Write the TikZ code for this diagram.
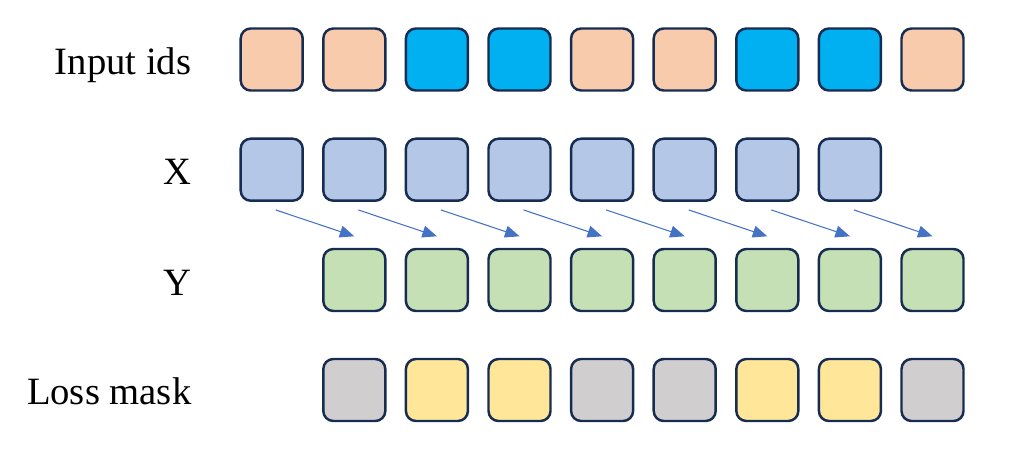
\documentclass[tikz,border=0pt]{standalone}
\usepackage{fontspec}
\setmainfont{Liberation Serif}
\usetikzlibrary{arrows.meta,positioning}
\definecolor{edgeblue}{RGB}{23,44,81}
\definecolor{peach}{RGB}{248,203,173}
\definecolor{cyanblue}{RGB}{0,176,240}
\definecolor{paleblue}{RGB}{180,199,231}
\definecolor{palegreen}{RGB}{197,224,180}
\definecolor{palegray}{RGB}{208,206,206}
\definecolor{paleyellow}{RGB}{255,230,153}
\definecolor{arrowblue}{RGB}{68,114,196}

\begin{document}
\begin{tikzpicture}[node distance=1.652cm,
tok/.style={rectangle,rounded corners=0.2cm,draw=edgeblue,line width=1.4pt,minimum size=1.24cm,inner sep=0pt},
lab/.style={anchor=base east,inner sep=0pt,font=\fontsize{22}{26}\selectfont},
arr/.style={draw,color=arrowblue,line width=0.6pt,-{Triangle[length=0.29cm,width=0.24cm]}}]

\useasboundingbox (0,0) rectangle (20.58,9.02);

% input ids
\node[tok,fill=peach] (in1) at (5.434,7.83) {};
\node[tok,fill=peach] (in2) [right of=in1] {};
\node[tok,fill=cyanblue] (in3) [right of=in2] {};
\node[tok,fill=cyanblue] (in4) [right of=in3] {};
\node[tok,fill=peach] (in5) [right of=in4] {};
\node[tok,fill=peach] (in6) [right of=in5] {};
\node[tok,fill=cyanblue] (in7) [right of=in6] {};
\node[tok,fill=cyanblue] (in8) [right of=in7] {};
\node[tok,fill=peach] (in9) [right of=in8] {};

% X
\node[tok,fill=paleblue] (x1) [node distance=2.204cm,below of=in1] {};
\node[tok,fill=paleblue] (x2) [right of=x1] {};
\node[tok,fill=paleblue] (x3) [right of=x2] {};
\node[tok,fill=paleblue] (x4) [right of=x3] {};
\node[tok,fill=paleblue] (x5) [right of=x4] {};
\node[tok,fill=paleblue] (x6) [right of=x5] {};
\node[tok,fill=paleblue] (x7) [right of=x6] {};
\node[tok,fill=paleblue] (x8) [right of=x7] {};

% Y
\node[tok,fill=palegreen] (y2) [node distance=2.206cm,below of=x2] {};
\node[tok,fill=palegreen] (y3) [right of=y2] {};
\node[tok,fill=palegreen] (y4) [right of=y3] {};
\node[tok,fill=palegreen] (y5) [right of=y4] {};
\node[tok,fill=palegreen] (y6) [right of=y5] {};
\node[tok,fill=palegreen] (y7) [right of=y6] {};
\node[tok,fill=palegreen] (y8) [right of=y7] {};
\node[tok,fill=palegreen] (y9) [right of=y8] {};

% loss mask
\node[tok,fill=palegray] (m2) [node distance=2.2cm,below of=y2] {};
\node[tok,fill=paleyellow] (m3) [right of=m2] {};
\node[tok,fill=paleyellow] (m4) [right of=m3] {};
\node[tok,fill=palegray] (m5) [right of=m4] {};
\node[tok,fill=palegray] (m6) [right of=m5] {};
\node[tok,fill=paleyellow] (m7) [right of=m6] {};
\node[tok,fill=paleyellow] (m8) [right of=m7] {};
\node[tok,fill=palegray] (m9) [right of=m8] {};

\node[lab] (lin) at (3.834,7.53) {Input ids};
\node[lab] (lx) at (3.834,5.33) {X};
\node[lab] (ly) at (3.834,3.12) {Y};
\node[lab] (lm) at (3.834,0.94) {Loss mask};

\path[every edge/.style={arr}]
([shift={(0.08cm,-0.16cm)}]x1.south) edge ([yshift=0.23cm]y2.north)
([shift={(0.08cm,-0.16cm)}]x2.south) edge ([yshift=0.23cm]y3.north)
([shift={(0.08cm,-0.16cm)}]x3.south) edge ([yshift=0.23cm]y4.north)
([shift={(0.08cm,-0.16cm)}]x4.south) edge ([yshift=0.23cm]y5.north)
([shift={(0.08cm,-0.16cm)}]x5.south) edge ([yshift=0.23cm]y6.north)
([shift={(0.08cm,-0.16cm)}]x6.south) edge ([yshift=0.23cm]y7.north)
([shift={(0.08cm,-0.16cm)}]x7.south) edge ([yshift=0.23cm]y8.north)
([shift={(0.08cm,-0.16cm)}]x8.south) edge ([yshift=0.23cm]y9.north);
\end{tikzpicture}
\end{document}
